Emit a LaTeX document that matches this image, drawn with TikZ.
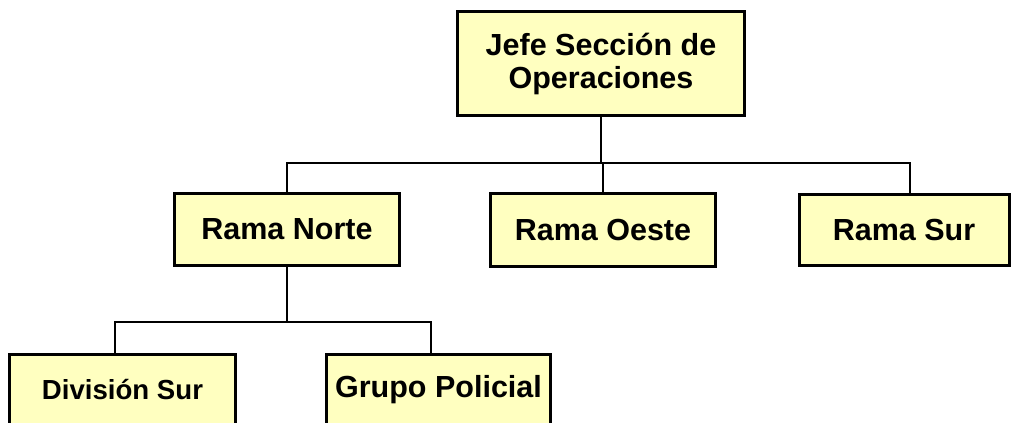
\documentclass[tikz,border=0pt]{standalone}
\usepackage{fontspec}
\setmainfont{Liberation Sans}

\definecolor{boxfill}{RGB}{255,255,192}

\tikzset{
  unit/.style={draw, line width=3pt, fill=boxfill, inner sep=0pt, align=center,
    font=\bfseries\fontsize{30.5}{33}\selectfont},
  link/.style={line width=2pt}
}

\begin{document}
\begin{tikzpicture}[x=1pt,y=1pt]

            \useasboundingbox (0,0) rectangle (1013,-423);
            \clip (0,0) rectangle (1013,-423);

            \node[unit, minimum width=287pt, minimum height=104pt] (jefe) at (601,-63.5)
            {Jefe Sección de\\Operaciones};

            \node[unit, minimum width=225pt, minimum height=72pt] (norte) at (287,-229.5) {Rama Norte};
            \node[unit, minimum width=225pt, minimum height=73pt] (oeste) at (603,-230) {Rama Oeste};
            \node[unit, minimum width=210pt, minimum height=71pt] (sur) at (904,-230) {Rama Sur};

            \node[unit, minimum width=226pt, minimum height=72pt,
              font=\bfseries\fontsize{27.6}{30}\selectfont] (division) at (122.5,-390) {División Sur};
            \node[unit, minimum width=224pt, minimum height=72pt] (grupo) at (438.5,-390) {Grupo Policial};

            \coordinate (bus) at (601,-163);
            \coordinate (subbus) at (287,-322);

            \draw[link] (jefe.south) -- (jefe.south |- bus);
            \draw[link] (norte.north) |- (bus) -| ([xshift=6pt]sur.north);
            \draw[link] (oeste.north) -- (oeste.north |- bus);

            \draw[link] (norte.south) -- (subbus);
            \draw[link] ([xshift=-8pt]division.north) |- (subbus) -| ([xshift=-8pt]grupo.north);

\end{tikzpicture}
\end{document}
